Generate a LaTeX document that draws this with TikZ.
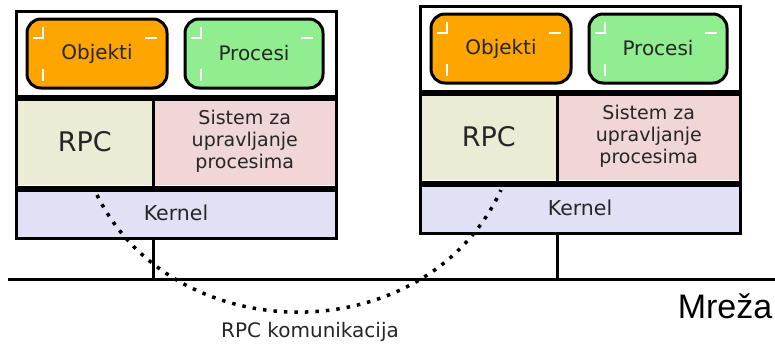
\documentclass[tikz,border=0pt]{standalone}
\usepackage{fontspec}
\setmainfont{DejaVu Sans}
\newfontfamily\mrezafont{Liberation Sans}
\usetikzlibrary{positioning}

\definecolor{objboja}{RGB}{255,165,0}
\definecolor{procboja}{RGB}{144,238,144}
\definecolor{rpcboja}{RGB}{236,236,214}
\definecolor{sisboja}{RGB}{240,214,214}
\definecolor{kerboja}{RGB}{225,225,246}

\begin{document}
\begin{tikzpicture}[x=1pt, y=-1pt,
    sloj/.style={inner sep=0pt, outer sep=0pt, anchor=north west, text=black!85},
    kutija/.style={draw, line width=3pt, rounded corners=14pt, inner sep=0pt,
        minimum height=69pt, text=black!85, font=\fontsize{20}{22}\selectfont},
    oznaka/.style={white, line width=1.5pt},
    traka/.style={line width=6pt},
    linija/.style={line width=3pt},
    poziv/.style={line width=3.5pt, dash pattern=on 3.5pt off 7pt}]
    \useasboundingbox (0,0) rectangle (775,346);

    % Dva racunara: lijevi (L) i desni (D)
    \foreach \ime/\x/\y in {L/16/11, D/420/6} {
        \begin{scope}[shift={(\x,\y)}]
            % Slojevi
            \node[sloj, fill=white, minimum width=320pt, minimum height=87pt] (\ime-gore) at (0,0) {};
            \node[sloj, fill=rpcboja, minimum width=137.5pt, minimum height=87pt,
                font=\fontsize{27}{27}\selectfont] (\ime-rpc) at (0,87) {RPC};
            \node[sloj, fill=sisboja, minimum width=182.5pt, minimum height=87pt, align=center,
                font=\fontsize{19}{22}\selectfont] (\ime-sistem) at (137.5,87) {Sistem za\\upravljanje\\procesima};
            \node[sloj, fill=kerboja, minimum width=320pt, minimum height=50pt,
                font=\fontsize{20.5}{22}\selectfont] (\ime-kernel) at (0,177) {\raisebox{-3pt}{Kernel}};

            % Objekti i procesi
            \node[kutija, fill=objboja, minimum width=140pt] (\ime-objekti) at (81,42.5) {Objekti};
            \node[kutija, fill=procboja, minimum width=138pt] (\ime-procesi) at (238,42.5) {Procesi};
            \foreach \bx/\bs in {11/140, 169/138} {
                \draw[oznaka] (\bx+6,27) -- ++(10,0) -- ++(0,-11);
                \draw[oznaka] (\bx+\bs-22,27) -- ++(12,0);
                \draw[oznaka] (\bx+16,58) -- ++(0,12);
            }

            % Granice
            \draw[traka] (0,87) -- (320,87);
            \draw[traka] (0,177.5) -- (320,177.5);
            \draw[linija] (137.5,87) -- (137.5,177.5);
            \node[draw, line width=3pt, inner sep=0pt, outer sep=0pt, anchor=north west,
                minimum width=320pt, minimum height=227pt] (\ime) at (0,0) {};

            \coordinate (\ime-spoj) at (137.5,227);
            \coordinate (\ime-rpcveza) at (81,184);
        \end{scope}
    }

    % Mreza
    \coordinate (mreza-l) at (8,279);
    \coordinate (mreza-d) at (775,279);
    \draw[linija] (mreza-l) -- (mreza-d);
    \draw[linija] (L-spoj) -- (L-spoj |- mreza-l);
    \draw[linija] (D-spoj) -- (D-spoj |- mreza-l);
    \node[font=\mrezafont\fontsize{34}{34}\selectfont] (mreza) at (725,306) {Mreža};

    % RPC komunikacija
    \draw[poziv] (L-rpcveza) .. controls +(78,157) and +(-75,162) .. (D-rpcveza);
    \node[font=\fontsize{20}{22}\selectfont, text=black!85] (rpcnatpis) at (310,332) {RPC komunikacija};
\end{tikzpicture}
\end{document}
